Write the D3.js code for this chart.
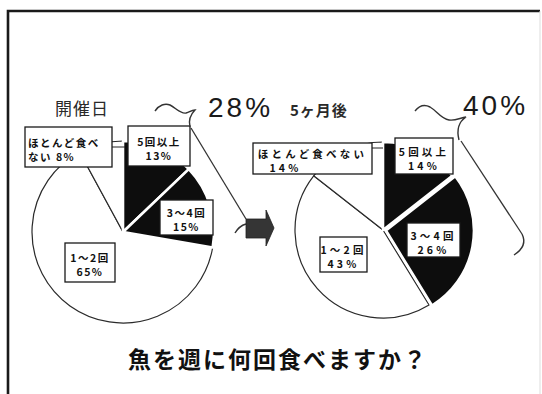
<!DOCTYPE html>
<html><head><meta charset="utf-8">
<script src="https://cdn.jsdelivr.net/npm/d3@7"></script>
<style>body{margin:0;background:#fff;overflow:hidden}</style>
</head><body>
<svg id="c" width="542" height="394"></svg>
<script>
// ---- data ----
const categories = ["5回以上", "3〜4回", "1〜2回", "ほとんど食べない"];
const beforeValues = [13, 15, 65, 8];
const afterValues = [14, 26, 43, 14];
const panelTitles = ["開催日", "5ヶ月後"];
const question = "魚を週に何回食べますか？";

// ---- layout / style ----
const jp = "'Noto Sans CJK JP', 'Noto Sans', sans-serif";
const W = 542, H = 394;
const svg = d3.select("#c");
svg.append("rect").attr("width", W).attr("height", H).attr("fill", "#fff");
// slide frame
svg.append("path").attr("d", "M8,394 V11 H540").attr("fill", "none").attr("stroke", "#1a1a1a").attr("stroke-width", 2.6);
svg.append("line").attr("x1", 540).attr("y1", 11).attr("x2", 540).attr("y2", 394).attr("stroke", "#ddd").attr("stroke-width", 1);

const fills = ["#111", "#111", "#fff", "#fff"];
const pie = d3.pie().sort(null).value(d => d.v);

const panels = [
  { values: beforeValues, title: panelTitles[0], cx: 123, cy: 232, r: 91, explode: 0,
    titlePos: [55, 115], titleSize: 17, titleWeight: 400,
    pctPos: [208, 117],
    fs: 10.5, ls: 1.5,
    boxes: [
      { x: 128, y: 126, w: 62, h: 40, lines: (c, v) => [c, v + "%"] },
      { x: 160, y: 200, w: 53, h: 35, lines: (c, v) => [c, v + "%"] },
      { x: 65, y: 243, w: 50, h: 39, lines: (c, v) => [c, v + "%"] },
      { x: 25, y: 127, w: 87, h: 40, anchor: "start", lines: (c, v) => [c.slice(0, 6), c.slice(6) + " " + v + "%"] }
    ],
    leader: [112, 125, 147],
    brace: "M155,111 C159,105 165,103 170,105 C176,108 180,114 186,113 C189,112 192,110 195,110 C191,114 188,119 190,127",
    braceLine: [191, 128, 246, 219],
    braceTail: "M246,224 Q239,226 235,233"
  },
  { values: afterValues, title: panelTitles[1], cx: 383, cy: 230, r: 88, explode: 3,
    titlePos: [290, 116], titleSize: 15, titleWeight: 700,
    pctPos: [463, 115],
    fs: 10.5, ls: 3.2,
    boxes: [
      { x: 395, y: 138, w: 58, h: 36, lines: (c, v) => [c, v + "%"] },
      { x: 407, y: 223, w: 53, h: 34, lines: (c, v) => [c, v + "%"] },
      { x: 320, y: 237, w: 47, h: 35, lines: (c, v) => [c, v + "%"] },
      { x: 253, y: 143, w: 119, h: 31, l2dx: -27, lines: (c, v) => [c, v + "%"] }
    ],
    leader: [372, 383, 148],
    brace: "M415,111 C419,106 424,104 430,107 C437,111 441,119 449,120 C455,121 460,118 466,117 C460,121 456,128 459,140",
    braceLine: [461, 141, 522, 234],
    braceTail: "M522,234 Q528,246 514,255"
  }
];

panels.forEach(p => {
  const data = categories.map((c, i) => ({ c, v: p.values[i], i }));
  const arcs = pie(data);
  const arc = d3.arc().innerRadius(0).outerRadius(p.r);
  const g = svg.append("g").attr("transform", `translate(${p.cx},${p.cy})`);

  // white slices
  g.selectAll("path.w").data(arcs.filter(a => fills[a.index] === "#fff")).join("path")
    .attr("class", "w").attr("d", arc).attr("fill", "#fff")
    .attr("stroke", "#2a2a2a").attr("stroke-width", 1.2).attr("stroke-linejoin", "round");
  // dark slices
  g.selectAll("path.b").data(arcs.filter(a => fills[a.index] !== "#fff")).join("path")
    .attr("class", "b").attr("d", arc).attr("fill", "#0d0d0d")
    .attr("transform", a => {
      if (a.index !== 1 || !p.explode) return null;
      const m = (a.startAngle + a.endAngle) / 2;
      return `translate(${Math.sin(m) * p.explode},${-Math.cos(m) * p.explode})`;
    })
    .attr("stroke", "#fff").attr("stroke-width", 2.6).attr("stroke-linejoin", "round");

  // leader line
  svg.append("line").attr("x1", p.leader[0]).attr("x2", p.leader[1]).attr("y1", p.leader[2]).attr("y2", p.leader[2])
    .attr("stroke", "#222").attr("stroke-width", 1);

  // label boxes
  p.boxes.forEach((b, i) => {
    svg.append("rect").attr("x", b.x).attr("y", b.y).attr("width", b.w).attr("height", b.h)
      .attr("fill", "#fff").attr("stroke", "#1a1a1a").attr("stroke-width", 1.3);
    const lines = b.lines(categories[i], p.values[i]);
    const start = b.anchor === "start";
    const txt = svg.append("text")
      .attr("text-anchor", start ? "start" : "middle")
      .attr("font-family", jp).attr("font-weight", 700).attr("font-size", p.fs)
      .attr("letter-spacing", p.ls).attr("fill", "#111");
    const base1 = b.y + (b.h - 14) / 2 + 6.5;
    lines.forEach((t, k) => {
      let x = start ? b.x + 3 : b.x + b.w / 2;
      if (k === 1 && b.l2dx) x += b.l2dx;
      txt.append("tspan").attr("x", x).attr("y", base1 + k * 14).text(t);
    });
  });

  // title
  svg.append("text").attr("x", p.titlePos[0]).attr("y", p.titlePos[1])
    .attr("font-family", jp).attr("font-size", p.titleSize).attr("font-weight", p.titleWeight)
    .attr("letter-spacing", 1).attr("fill", "#2a2a2a").text(p.title);

  // combined percentage of the two dark slices
  const pct = d3.sum(p.values.slice(0, 2));
  svg.append("text").attr("x", p.pctPos[0]).attr("y", p.pctPos[1])
    .attr("font-family", "'Liberation Sans', Arial, sans-serif").attr("font-size", 28)
    .attr("letter-spacing", 3).attr("fill", "#1a1a1a").text(pct + "%");

  // brace annotation
  svg.append("path").attr("d", p.brace).attr("fill", "none").attr("stroke", "#333").attr("stroke-width", 1.4);
  svg.append("line").attr("x1", p.braceLine[0]).attr("y1", p.braceLine[1]).attr("x2", p.braceLine[2]).attr("y2", p.braceLine[3])
    .attr("stroke", "#333").attr("stroke-width", 1.3);
  svg.append("path").attr("d", p.braceTail).attr("fill", "none").attr("stroke", "#333").attr("stroke-width", 1.4);
});

// arrow between pies
svg.append("path").attr("d", "M246,219 H266 V210 L274,228 L266,246 V238 H246 Z")
  .attr("fill", "#353535").attr("stroke", "#222").attr("stroke-width", 0.8);

// question caption
svg.append("text").attr("x", 278).attr("y", 368).attr("text-anchor", "middle")
  .attr("font-family", jp).attr("font-size", 23).attr("font-weight", 700)
  .attr("letter-spacing", 2).attr("fill", "#111").text(question);
</script>
</body></html>
